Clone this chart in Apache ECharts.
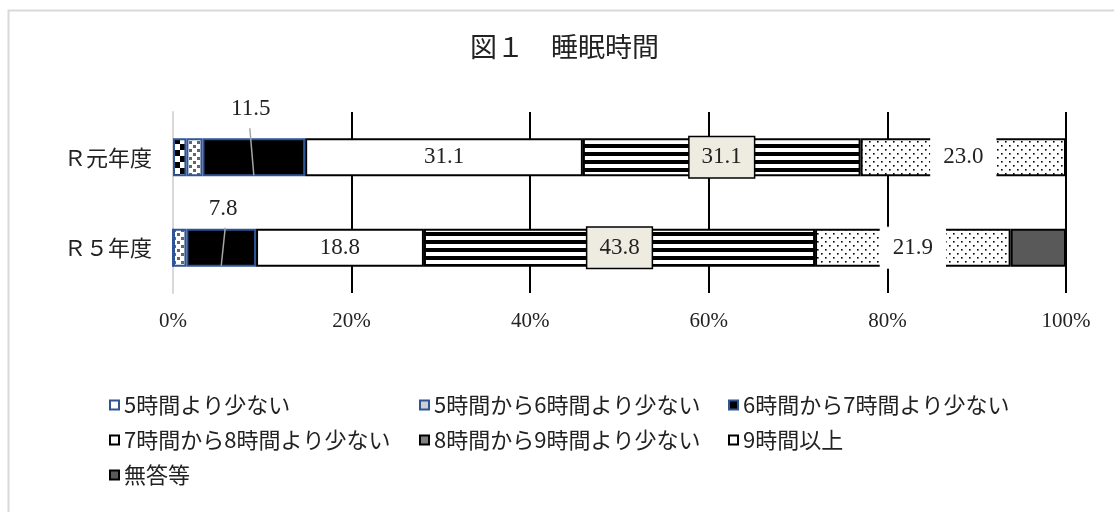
<!DOCTYPE html>
<html><head><meta charset="utf-8">
<script src="https://cdn.jsdelivr.net/npm/echarts/dist/echarts.min.js"></script>
<style>html,body{margin:0;padding:0;background:#fff}#c{width:1114px;height:512px}</style>
</head><body><div id="c"></div>
<script>
// ---- data ----
const titleText = '図１　睡眠時間';
const categories = ['Ｒ元年度', 'Ｒ５年度'];
const seriesNames = ['5時間より少ない', '5時間から6時間より少ない', '6時間から7時間より少ない',
  '7時間から8時間より少ない', '8時間から9時間より少ない', '9時間以上', '無答等'];
const lessThan5 = [1.5, 0];
const from5to6 = [1.8, 1.5];
const from6to7 = [11.5, 7.8];
const from7to8 = [31.1, 18.8];
const from8to9 = [31.1, 43.8];
const over9 = [23.0, 21.9];
const noAnswer = [0, 6.2];
const xMin = 0, xMax = 100, xStep = 20;

// ---- styles ----
function pat(w, h, draw) {
  const c = document.createElement('canvas'); c.width = w; c.height = h;
  const g = c.getContext('2d'); g.fillStyle = '#fff'; g.fillRect(0, 0, w, h); draw(g);
  return { image: c, repeat: 'repeat' };
}
const checker = pat(12, 12, g => { g.fillStyle = '#000'; g.fillRect(0, 0, 6, 6); g.fillRect(6, 6, 6, 6); });
const graySq = pat(8, 8, g => { g.fillStyle = '#666'; g.fillRect(1, 1, 3, 3); g.fillRect(5, 5, 3, 3); });
const stripes = pat(8, 8, g => { g.fillStyle = '#000'; g.fillRect(0, 0, 8, 4); });
const dots = pat(8, 8, g => { g.fillStyle = '#000'; g.fillRect(1, 1, 1.6, 1.6); g.fillRect(5, 5, 1.6, 1.6); });

const fills = [checker, graySq, '#000', '#fff', stripes, dots, '#595959'];
const borders = ['#2F5597', '#2F5597', '#2F5597', '#000', '#000', '#000', '#000'];
const legendFills = ['#fff', '#d0d0d0', '#000', '#fff', '#808080', '#fff', '#595959'];
const legendLayout = [[109, 394], [419, 394], [728, 394], [109, 429], [419, 429], [728, 429], [109, 464]];
const topLabelDist = [18, 9];
const topLabelDx = [-3, 2];
const leaderSlant = [-4, 4];
const leaderTopExt = [10, 1];

const serif = '"Liberation Serif", "DejaVu Serif", serif';
const cjk = '"Noto Sans CJK JP", sans-serif';
const txt = '#222';
const fmt = p => Number(p.value).toFixed(1);
const baseLabel = { fontFamily: serif, fontSize: 23, lineHeight: 22, color: txt, formatter: fmt };
const labelCfg = [
  { show: false },
  { show: false },
  Object.assign({ show: true, position: 'top' }, baseLabel),
  Object.assign({ show: true, position: 'inside' }, baseLabel),
  Object.assign({ show: true, position: 'inside', backgroundColor: '#EEECE1', borderColor: '#000', borderWidth: 1.5, padding: [9, 12] }, baseLabel),
  Object.assign({ show: true, position: 'inside', backgroundColor: '#fff', padding: [10, 13] }, baseLabel),
  { show: false }
];

const valueSets = [lessThan5, from5to6, from6to7, from7to8, from8to9, over9, noAnswer];

const barSeries = valueSets.map((vals, k) => ({
  name: seriesNames[k],
  type: 'bar',
  stack: 'total',
  barWidth: 38,
  itemStyle: { color: fills[k], borderColor: borders[k], borderWidth: 2 },
  label: labelCfg[k],
  emphasis: { disabled: true },
  data: vals.map((v, i) => (k === 2 ? { value: v, label: { distance: topLabelDist[i], offset: [topLabelDx[i], 0] } } : v))
}));

const leaderData = categories.map((c, i) => [lessThan5[i] + from5to6[i] + from6to7[i] / 2, i]);
const leaderSeries = {
  type: 'custom',
  z: 5,
  silent: true,
  encode: { x: 0, y: 1 },
  data: leaderData,
  renderItem: (params, api) => {
    const i = params.dataIndex;
    const p = api.coord([api.value(0), api.value(1)]);
    return {
      type: 'line',
      shape: { x1: p[0] + leaderSlant[i], y1: p[1] - 19 - leaderTopExt[i], x2: p[0], y2: p[1] + 18 },
      style: { stroke: '#A6A6A6', lineWidth: 1.5 }
    };
  }
};

const legends = seriesNames.map((n, k) => ({
  left: legendLayout[k][0], top: legendLayout[k][1], padding: 0,
  selectedMode: false, itemWidth: 9, itemHeight: 9,
  textStyle: { fontFamily: cjk, fontSize: 22, color: txt },
  data: [{ name: n, icon: 'rect', itemStyle: { color: legendFills[k], borderColor: borders[k], borderWidth: 2, decal: 'none' } }]
}));

const chart = echarts.init(document.getElementById('c'), null, { renderer: 'canvas' });
chart.setOption({
  animation: false,
  backgroundColor: '#fff',
  title: { text: titleText, left: 470, top: 33, padding: 0,
    textStyle: { fontFamily: cjk, fontSize: 27, fontWeight: 'normal', color: txt } },
  legend: legends,
  graphic: [{ type: 'rect', silent: true, z: -1,
    shape: { x: 8.5, y: 10.5, width: 1200, height: 600 },
    style: { fill: 'none', stroke: '#d9d9d9', lineWidth: 2 } }],
  grid: { left: 173, right: 48, top: 112, bottom: 219, containLabel: false, outerBoundsMode: 'none' },
  xAxis: {
    type: 'value', min: xMin, max: xMax, interval: xStep,
    axisLine: { show: false }, axisTick: { show: false },
    axisLabel: { formatter: '{value}%', fontFamily: serif, fontSize: 21, color: txt, margin: 18 },
    splitLine: { show: true, lineStyle: { color: ['#d9d9d9', '#000', '#000', '#000', '#000', '#000'], width: 2 } }
  },
  yAxis: {
    type: 'category', inverse: true, data: categories,
    axisLine: { show: true, lineStyle: { color: '#d9d9d9', width: 2 } },
    axisTick: { show: false },
    axisLabel: { fontFamily: cjk, fontSize: 22, color: txt, margin: 21 }
  },
  series: barSeries.concat([leaderSeries])
});
</script>
</body></html>
